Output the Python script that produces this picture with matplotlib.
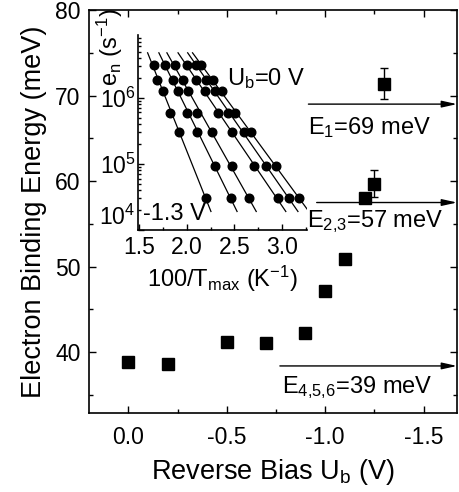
import numpy as np
import matplotlib
matplotlib.use("Agg")
import matplotlib.pyplot as plt
from matplotlib.ticker import MultipleLocator, LogLocator, NullFormatter, FuncFormatter

plt.rcParams['font.family'] = ['Liberation Sans', 'DejaVu Sans']
plt.rcParams['mathtext.fontset'] = 'custom'
plt.rcParams['mathtext.rm'] = 'Liberation Sans'
plt.rcParams['mathtext.it'] = 'Liberation Sans:italic'
plt.rcParams['axes.unicode_minus'] = False

# ---- main data ----
bias = [0.0, -0.2, -0.5, -0.7, -0.9, -1.0, -1.1, -1.2, -1.25, -1.3]
energy = [38.9, 38.6, 41.2, 41.1, 42.2, 47.2, 50.9, 58.0, 59.7, 71.4]
energy_err = [0, 0, 0, 0, 0, 0.6, 0, 0, 1.6, 1.8]

level_E = [69.0, 57.5, 38.4]
level_start = [-0.915, -0.957, -0.77]
level_labels = ["E$_1$=69 meV", "E$_{2{,}3}$=57 meV", "E$_{4{,}5{,}6}$=39 meV"]
level_text_x = [-0.913, -0.906, -0.78]
level_text_y = [65.5, 54.65, 35.2]

# ---- inset data (Arrhenius plots, 100/Tmax vs e_n) ----
rate = [3.1e6, 1.85e6, 1.28e6, 5.9e5, 3.0e5, 9.4e4, 3.0e4]
invT_m13 = [1.656, 1.691, 1.754, 1.824, 1.922, None, 2.203]
invT_2 = [1.772, 1.852, 1.912, 2.006, 2.105, 2.298, 2.463]
invT_3 = [1.877, 1.958, 2.017, 2.112, 2.263, 2.474, 2.649]
invT_4 = [2.000, 2.098, 2.193, 2.323, 2.474, 2.708, 2.954]
invT_5 = [2.098, 2.203, 2.298, 2.438, 2.596, 2.835, 3.070]
invT_0 = [2.147, 2.274, 2.368, 2.508, 2.674, 2.940, 3.175]
inset_series = [invT_m13, invT_2, invT_3, invT_4, invT_5, invT_0]

W, H = 459, 492
fig = plt.figure(figsize=(W/100, H/100), dpi=100)

# main axes
ax = fig.add_axes([89/W, 1 - 413/H, (457-89)/W, (413-10)/H])
ax.set_xlim(0.2, -1.67)
ax.set_ylim(32.9, 80)

ax.plot(bias, energy, 's', color='black', markersize=8.4, zorder=3)
for b, e, er in zip(bias, energy, energy_err):
    if er > 0:
        ax.errorbar([b], [e], yerr=[er], fmt='none', ecolor='black',
                    elinewidth=1.0, capsize=2.8, capthick=1.0, zorder=2)

for yE, xs, lab, tx, ty in zip(level_E, level_start, level_labels, level_text_x, level_text_y):
    ax.annotate('', xy=(ax.get_xlim()[1], yE), xytext=(xs, yE),
                arrowprops=dict(arrowstyle='-|>,head_length=0.9,head_width=0.2',
                                color='black', lw=1.0, shrinkA=0, shrinkB=0),
                annotation_clip=False)
    ax.text(tx, ty, lab, fontsize=17, ha='left', va='baseline')

ax.xaxis.set_major_locator(MultipleLocator(0.5))
ax.xaxis.set_minor_locator(MultipleLocator(0.25))
ax.yaxis.set_minor_locator(MultipleLocator(5))
ax.set_yticks([40, 50, 60, 70, 80])
ax.xaxis.set_major_formatter(FuncFormatter(lambda v, p: f"{v:.1f}".replace("-0.0", "0.0")))
ax.tick_params(which='both', direction='in', top=True, right=True, width=1.0)
ax.tick_params(which='major', length=5, labelsize=16.5, pad=6)
ax.tick_params(which='minor', length=3)
ax.tick_params(axis='x', which='major', pad=9)
for s in ax.spines.values():
    s.set_linewidth(1.2)
ax.set_xlabel("Reverse Bias U$_\\mathrm{b}$ (V)", fontsize=19.5, labelpad=6)
ax.set_ylabel("Electron Binding Energy (meV)", fontsize=19.5, labelpad=6)

# inset axes
ai = fig.add_axes([138.3/W, 1 - 230/H, (306.7-138.3)/W, (230-35)/H])
ai.set_xlim(1.49, 3.26)
ai.set_yscale('log')
ai.set_ylim(1e4, 8.9e6)
ai.patch.set_alpha(0)
ai.spines['top'].set_visible(False)
ai.spines['right'].set_visible(False)

ytop, ybot = 6.68, 4.28
for xs in inset_series:
    pts = [(x, r) for x, r in zip(xs, rate) if x is not None]
    px = np.array([p[0] for p in pts])
    py = np.log10([p[1] for p in pts])
    k, c = np.polyfit(px, py, 1)
    xl = np.array([(ytop - c)/k, (ybot - c)/k])
    ai.plot(xl, 10**(k*xl + c), '-', color='black', lw=0.9, zorder=2)
    ai.plot(px, 10**py, 'o', color='black', markersize=6.2, zorder=3)

ai.text(2.42, 1.55e6, "U$_\\mathrm{b}$=0 V", fontsize=17, ha='left', va='baseline')
ai.text(1.54, 1.4e4, "-1.3 V", fontsize=17, ha='left', va='baseline')

ai.xaxis.set_major_locator(MultipleLocator(0.5))
ai.xaxis.set_minor_locator(MultipleLocator(0.25))
ai.yaxis.set_major_locator(LogLocator(base=10, numticks=10))
ai.yaxis.set_minor_locator(LogLocator(base=10, subs=np.arange(2, 10), numticks=20))
ai.yaxis.set_minor_formatter(NullFormatter())


def log_fmt(v, p):
    e = int(round(np.log10(v)))
    if e <= 4:
        return ""
    return "$\\mathdefault{10^{%d}}$" % e


ai.yaxis.set_major_formatter(FuncFormatter(log_fmt))
ai.tick_params(which='both', direction='in', width=1.0)
ai.tick_params(which='major', length=4, labelsize=16.5, pad=2)
ai.tick_params(which='minor', length=2)
ai.tick_params(axis='x', which='major', pad=4)
for s in ai.spines.values():
    s.set_linewidth(1.2)
# bottom decade label, raised like in the original to clear the x tick labels
ai.annotate("$\\mathdefault{10^{4}}$", xy=(0, 1e4), xycoords=('axes fraction', 'data'),
            xytext=(-3, 13), textcoords='offset pixels', ha='right', va='center',
            fontsize=16.5)
ai.set_xlabel("100/T$_\\mathrm{max}$ (K$^{-1}$)", fontsize=17, labelpad=4)
fig.text(110/W, 1 - 47/H, "e$_\\mathrm{n}$ (s$^{-1}$)", fontsize=17,
         rotation=90, ha='center', va='center')

fig.savefig("out.png", dpi=100)
